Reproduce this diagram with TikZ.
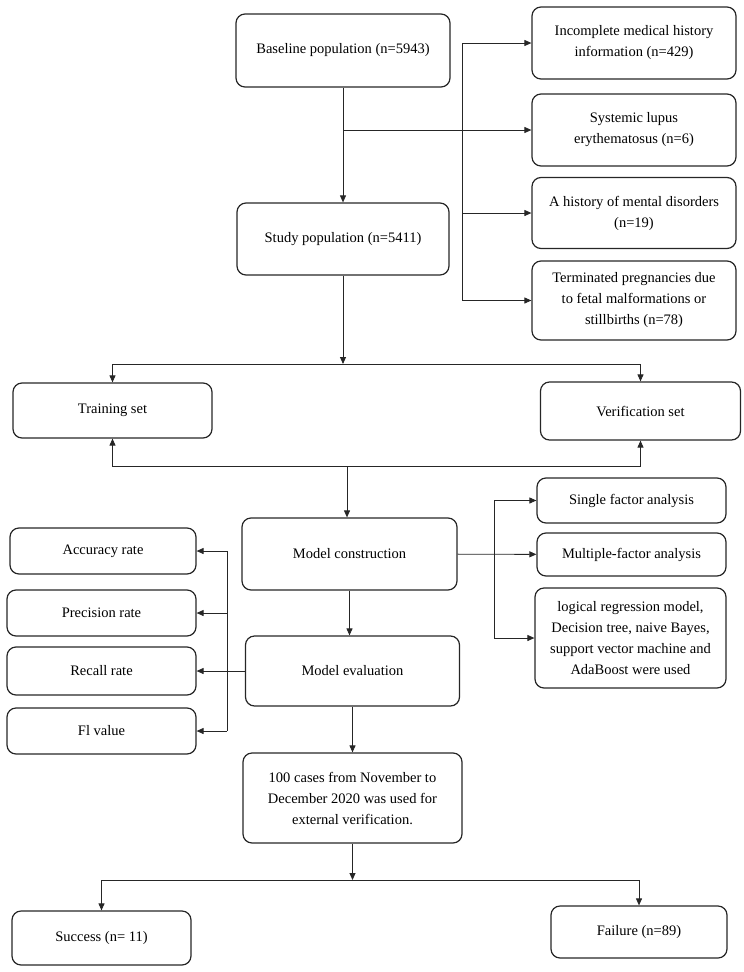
\documentclass[tikz,border=0pt]{standalone}
\usepackage{amsmath, amssymb, tikz}
\usepackage{fontspec}
\setmainfont{Liberation Serif}
\usetikzlibrary{arrows.meta}

\begin{document}
\begin{tikzpicture}[x=1pt,y=-1pt,
        box/.style={draw=black!85, line width=1.2pt, rounded corners=9pt, align=center, inner sep=0pt,
          font=\fontsize{14.5}{21}\selectfont},
        link/.style={line width=0.9pt, draw=black!85},
        >={Triangle[length=7pt,width=6pt]}]
        \useasboundingbox (0,0) rectangle (744,972);

        \node[box, minimum width=214pt, minimum height=73pt] (base) at (343,50.5) {Baseline population (n=5943)};
        \node[box, minimum width=212pt, minimum height=72pt] (study) at (343,239) {Study population (n=5411)};
        \node[box, minimum width=204pt, minimum height=72pt] (inc) at (634,43) {Incomplete medical history\\information (n=429)};
        \node[box, minimum width=204pt, minimum height=72pt] (sys) at (634,130) {Systemic lupus\\erythematosus (n=6)};
        \node[box, minimum width=204pt, minimum height=71pt] (hist) at (634,213) {A history of mental disorders\\(n=19)};
        \node[box, minimum width=204pt, minimum height=79pt] (term) at (634,300.5) {Terminated pregnancies due\\to fetal malformations or\\stillbirths (n=78)};

        \node[box, minimum width=199pt, minimum height=55pt] (train) at (112.5,410.5) {Training set};
        \node[box, minimum width=200pt, minimum height=58pt] (verif) at (640.5,411) {Verification set};

        \node[box, minimum width=215pt, minimum height=72pt] (mcons) at (349.5,554) {Model construction};
        \node[box, minimum width=189pt, minimum height=45pt] (single) at (631.5,500.5) {Single factor analysis};
        \node[box, minimum width=189pt, minimum height=43pt] (multi) at (631.5,554.5) {Multiple-factor analysis};
        \node[box, minimum width=191pt, minimum height=100pt] (logic) at (630.5,638) {logical regression model,\\Decision tree, naive Bayes,\\support vector machine and\\AdaBoost were used};

        \node[box, minimum width=186pt, minimum height=46pt] (acc) at (103,551) {Accuracy rate};
        \node[box, minimum width=189pt, minimum height=46pt] (prec) at (101.5,613) {Precision rate};
        \node[box, minimum width=189pt, minimum height=48pt] (recall) at (101.5,671) {Recall rate};
        \node[box, minimum width=189pt, minimum height=46pt] (f1) at (101.5,731) {Fl value};
        \node[box, minimum width=214pt, minimum height=70pt] (meval) at (352.5,671) {Model evaluation};

        \node[box, minimum width=219pt, minimum height=90pt] (ext) at (352.5,798) {100 cases from November to\\December 2020 was used for\\external verification.};
        \node[box, minimum width=179pt, minimum height=54pt] (succ) at (101.5,938) {Success (n= 11)};
        \node[box, minimum width=176pt, minimum height=52pt] (fail) at (639,932) {Failure (n=89)};

        % junctions and trunks
        \coordinate (rtop) at (462,0);
        \coordinate (split1) at (343,364);
        \coordinate (split2) at (347,466);
        \coordinate (rmid) at (494,0);
        \coordinate (lmid) at (227,0);
        \coordinate (split3) at (352.5,880);

        \draw[link,->] (base) -- (study);
        \draw[link,->] (base.south |- sys.west) -- (sys.west);
        \draw[link] (rtop |- inc.west) -- (rtop |- term.west);
        \draw[link,->] (rtop |- inc.west) -- (inc.west);
        \draw[link,->] (rtop |- hist.west) -- (hist.west);
        \draw[link,->] (rtop |- term.west) -- (term.west);

        \draw[link,->] (study) -- (split1);
        \draw[link,->] (split1) -| (train);
        \draw[link,->] (split1) -| (verif);
        \draw[link,->] (split2) -| (train);
        \draw[link,->] (split2) -| (verif);
        \draw[link,->] (split2) -- (split2 |- mcons.north);

        \draw[link,->] (mcons) -- (multi);
        \draw[link] (rmid |- single.west) -- (rmid |- logic.west);
        \draw[link,->] (rmid |- single.west) -- (single.west);
        \draw[link,->] (rmid |- logic.west) -- (logic.west);

        \draw[link,->] (mcons) -- (mcons.south |- meval.north);
        \draw[link,->] (meval) -- (recall);
        \draw[link] (lmid |- acc.east) -- (lmid |- f1.east);
        \draw[link,->] (lmid |- acc.east) -- (acc.east);
        \draw[link,->] (lmid |- prec.east) -- (prec.east);
        \draw[link,->] (lmid |- f1.east) -- (f1.east);

        \draw[link,->] (meval) -- (ext);
        \draw[link,->] (ext) -- (split3);
        \draw[link,->] (split3) -| (succ);
        \draw[link,->] (split3) -| (fail);
      \end{tikzpicture}
\end{document}
